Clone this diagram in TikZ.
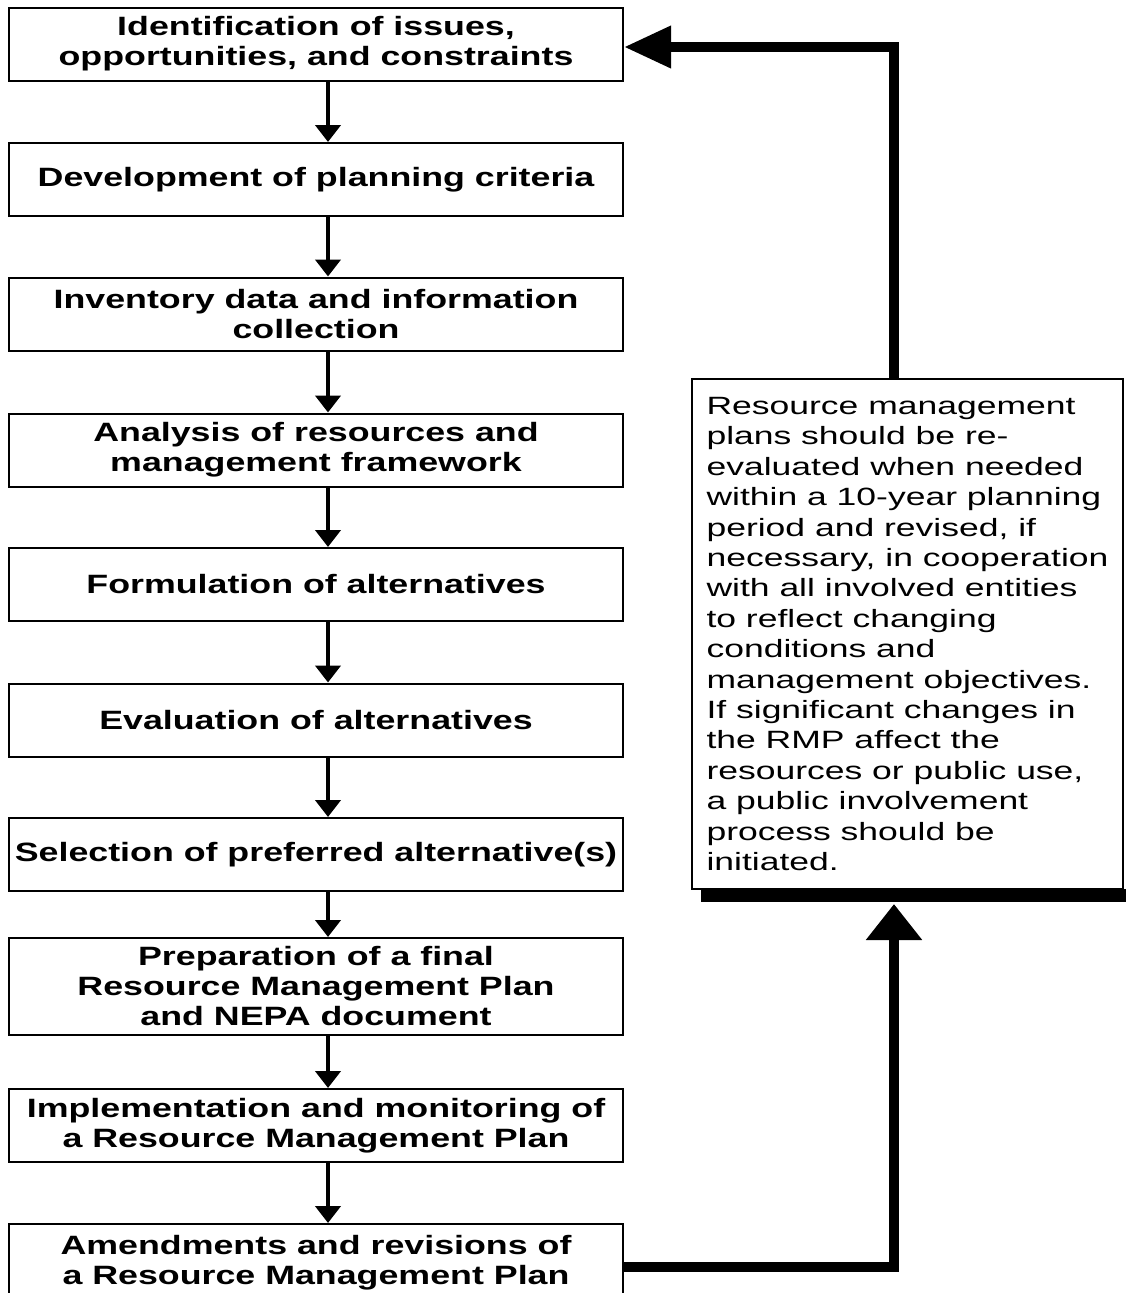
\documentclass[tikz,border=0pt]{standalone}
\usepackage{fontspec}
\setmainfont{Liberation Sans}
\newfontfamily\stepfont[FakeStretch=1.35]{Liberation Sans}
\newfontfamily\notefont[FakeStretch=1.42]{Liberation Sans}
\usetikzlibrary{arrows.meta}
\begin{document}
\begin{tikzpicture}[x=1pt,y=-1pt,
  stepbox/.style={draw=black, line width=2pt, minimum width=614pt, minimum height=#1,
    align=center, inner sep=0pt,
    font=\stepfont\bfseries\fontsize{26.5}{30}\selectfont},
  stepbox/.default=73pt,
  notebox/.style={draw=black, line width=2pt, minimum width=431pt, minimum height=510pt,
    align=left, inner sep=0pt,
    font=\notefont\fontsize{25}{30.4}\selectfont},
  down/.style={line width=4.5pt, -{Triangle[width=25pt,length=17pt]}},
  fb/.style={line width=10pt, line join=miter},
]
\useasboundingbox (0,0) rectangle (1125,1293);

\node[stepbox] (b1) at (316,44) {Identification of issues,\\opportunities, and constraints};
\node[stepbox] (b2) at (316,179.5) {Development of planning criteria};
\node[stepbox] (b3) at (316,314) {Inventory data and information\\collection};
\node[stepbox] (b4) at (316,450) {Analysis of resources and\\management framework};
\node[stepbox] (b5) at (316,584.5) {Formulation of alternatives};
\node[stepbox] (b6) at (316,720) {Evaluation of alternatives};
\node[stepbox] (b7) at (316,854.5) {Selection of preferred alternative(s)};
\node[stepbox=97pt] (b8) at (316,986.5) {Preparation of a final\\Resource Management Plan\\and NEPA document};
\node[stepbox] (b9) at (316,1125.5) {Implementation and monitoring of\\a Resource Management Plan};
\node[stepbox=77pt] (b10) at (316,1262.5) {Amendments and revisions of\\a Resource Management Plan};

\node[notebox] (note) at (907.5,634) {Resource management\\plans should be re-\\evaluated when needed\\within a 10-year planning\\period and revised, if\\necessary, in cooperation\\with all involved entities\\to reflect changing\\conditions and\\management objectives.\\If significant changes in\\the RMP affect the\\resources or public use,\\a public involvement\\process should be\\initiated.};

% shadow of the note box
\fill[black] ([xshift=10pt,yshift=1pt]note.south west) rectangle ([xshift=14pt,yshift=-12pt]note.south east);

\foreach \a/\b in {b1/b2,b2/b3,b3/b4,b4/b5,b5/b6,b6/b7,b7/b8,b8/b9,b9/b10}{
  \draw[down] ([xshift=12pt]\a.south) -- ([xshift=12pt]\b.north);
}

\draw[fb, -{Triangle[width=54pt,length=36pt]}] ([yshift=-4.5pt]b10.east) -| ([xshift=-13.5pt,yshift=-14pt]note.south);
\draw[fb, -{Triangle[width=40pt,length=47pt]}] ([xshift=-13.5pt]note.north) |- ([yshift=-3pt]b1.east);
\end{tikzpicture}
\end{document}
